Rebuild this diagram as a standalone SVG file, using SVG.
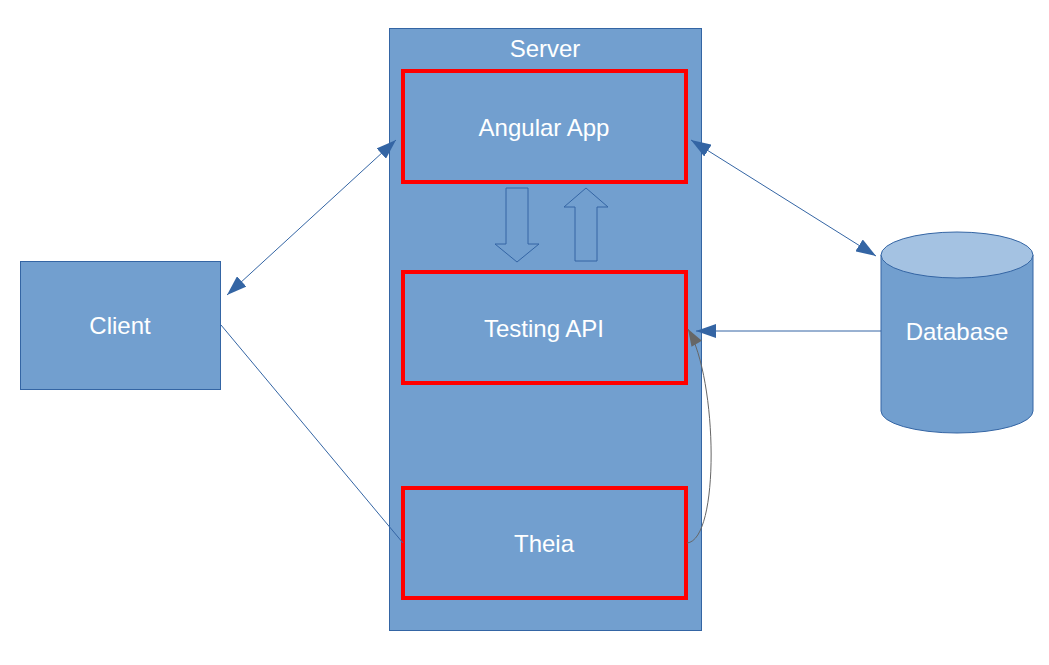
<svg xmlns="http://www.w3.org/2000/svg" width="1049" height="665" viewBox="0 0 1049 665">
<style>
.box{fill:#729fcf;stroke:#3465a4;stroke-width:1}
.red{fill:#729fcf;stroke:#ff0000;stroke-width:4}
.lbl{font-family:"Liberation Sans",Arial,sans-serif;font-size:24px;fill:#ffffff;text-anchor:middle;dominant-baseline:central}
.con{fill:none;stroke:#3465a4;stroke-width:1}
.blk{fill:#729fcf;stroke:#3465a4;stroke-width:1}
</style>
<defs>
<marker id="ab" viewBox="0 0 20 14" refX="20" refY="7" markerWidth="20" markerHeight="14" markerUnits="userSpaceOnUse" orient="auto-start-reverse">
<path d="M0,0 L20,7 L0,14 Z" fill="#3465a4"/>
</marker>
<marker id="ag" viewBox="0 0 20 14" refX="20" refY="7" markerWidth="18" markerHeight="12" markerUnits="userSpaceOnUse" orient="auto">
<path d="M0,0 L20,7 L0,14 Z" fill="#666666"/>
</marker>
</defs>
<rect width="1049" height="665" fill="#ffffff"/>
<g id="server">
<rect class="box" x="389.5" y="28.5" width="312" height="602"/>
<text class="lbl" x="545" y="48">Server</text>
</g>
<g id="angular">
<rect class="red" x="403" y="71" width="283" height="111"/>
<text class="lbl" x="544" y="127">Angular App</text>
</g>
<g id="testing">
<rect class="red" x="403" y="272" width="283" height="111"/>
<text class="lbl" x="544" y="328">Testing API</text>
</g>
<g id="theia">
<rect class="red" x="403" y="488" width="283" height="110"/>
<text class="lbl" x="544" y="543">Theia</text>
</g>
<g id="client">
<rect class="box" x="20.5" y="261.5" width="200" height="128"/>
<text class="lbl" x="120" y="325">Client</text>
</g>
<g id="database">
<path class="box" d="M881,255 L881,411 A76,22 0 0 0 1033,411 L1033,255"/>
<ellipse cx="957" cy="255" rx="76" ry="23" fill="#a4c2e2" stroke="#3465a4" stroke-width="1"/>
<text class="lbl" x="957" y="331">Database</text>
</g>
<g id="blockarrows">
<path class="blk" d="M506,188 L528,188 L528,244 L539,244 L517,262 L495,244 L506,244 Z"/>
<path class="blk" d="M575,261 L597,261 L597,207 L608,207 L586,188 L564,207 L575,207 Z"/>
</g>
<g id="connectors">
<line class="con" x1="227" y1="295" x2="396" y2="140" marker-start="url(#ab)" marker-end="url(#ab)"/>
<line class="con" x1="691" y1="140" x2="876" y2="256" marker-start="url(#ab)" marker-end="url(#ab)"/>
<line class="con" x1="881" y1="331" x2="696" y2="331" marker-end="url(#ab)"/>
<line class="con" x1="221" y1="325" x2="403" y2="543"/>
<path d="M687,543 C720,540 718,380 688,329" fill="none" stroke="#666666" stroke-width="1" marker-end="url(#ag)"/>
</g>
</svg>
